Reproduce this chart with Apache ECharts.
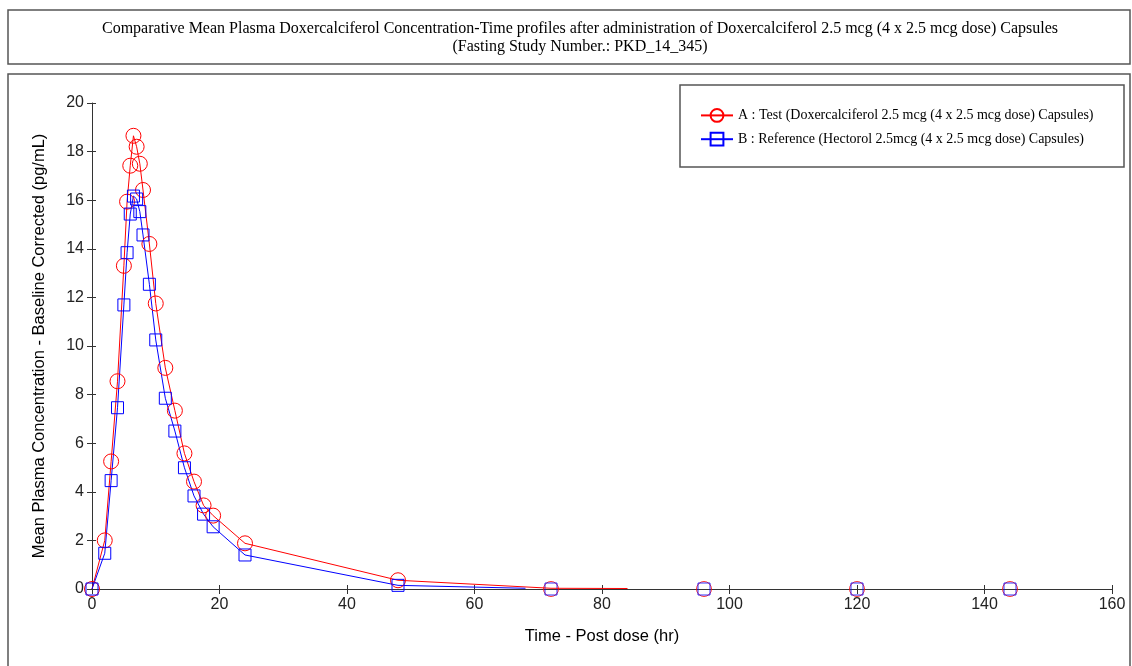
<!DOCTYPE html>
<html>
<head>
<meta charset="utf-8">
<script src="https://cdn.jsdelivr.net/npm/echarts@6/dist/echarts.min.js"></script>
<style>
html, body { margin: 0; padding: 0; background: #fff; }
#chart { width: 1132px; height: 666px; }
</style>
</head>
<body>
<div id="chart"></div>
<script>
// sampling times (hr) up to 48 h
var times = [0, 2, 3, 4, 5, 5.5, 6, 6.5, 7, 7.5, 8, 9, 10, 11.5, 13, 14.5, 16, 17.5, 19, 24, 48];
// A : Test
var testConc = [0, 2.0, 5.25, 8.55, 13.3, 15.94, 17.42, 18.65, 18.2, 17.5, 16.42, 14.2, 11.75, 9.1, 7.34, 5.58, 4.42, 3.44, 3.02, 1.88, 0.36];
// B : Reference
var refConc = [0, 1.47, 4.46, 7.46, 11.69, 13.84, 15.43, 16.17, 16.05, 15.53, 14.57, 12.54, 10.25, 7.85, 6.5, 4.99, 3.83, 3.08, 2.56, 1.40, 0.15];

// line continues past 48 h without markers
var testTailTimes = [72, 84];
var testTailConc = [0.03, 0.02];
var refTailTimes = [68];
var refTailConc = [0.03];

// late markers drawn on the baseline
var lateTimes = [72, 96, 120, 144];
var lateTest = [0, 0, 0, 0];
var lateRef = [0, 0, 0, 0];

var nameA = 'A : Test (Doxercalciferol 2.5 mcg (4 x 2.5 mcg dose) Capsules)';
var nameB = 'B : Reference (Hectorol 2.5mcg (4 x 2.5 mcg dose) Capsules)';

function pairs(xs, ys) {
	return xs.map(function(x, i) { return [x, ys[i]]; });
}
function noSymbol(xs, ys) {
	return xs.map(function(x, i) { return { value: [x, ys[i]], symbol: 'none' }; });
}

var myChart = echarts.init(document.getElementById('chart'));

var axisCommon = {
	type: 'value',
	axisLine: { show: true, lineStyle: { color: '#333', width: 1 } },
	splitLine: { show: false }
};

var option = {
	animation: false,
	backgroundColor: '#fff',
	graphic: [
		{ type: 'rect', shape: { x: 8, y: 10, width: 1122, height: 54 }, style: { fill: 'none', stroke: '#555', lineWidth: 1.5 } },
		{ type: 'rect', shape: { x: 8, y: 74, width: 1122, height: 600 }, style: { fill: 'none', stroke: '#555', lineWidth: 1.5 } },
		{ type: 'rect', shape: { x: 680, y: 85, width: 444, height: 82 }, style: { fill: 'none', stroke: '#555', lineWidth: 1.5 } }
	],
	title: {
		text: 'Comparative Mean Plasma Doxercalciferol Concentration-Time profiles after administration of Doxercalciferol 2.5 mcg (4 x 2.5 mcg dose) Capsules\n(Fasting Study Number.: PKD_14_345)',
		left: 575,
		top: 15,
		textAlign: 'center',
		textStyle: {
			fontFamily: 'Liberation Serif',
			fontSize: 16,
			fontWeight: 'normal',
			color: '#000',
			lineHeight: 18
		}
	},
	legend: {
		data: [nameA, nameB],
		orient: 'vertical',
		left: 695,
		top: 103,
		itemGap: 9,
		itemWidth: 32,
		itemHeight: 16,
		textStyle: { fontFamily: 'Liberation Serif', fontSize: 14, color: '#000' }
	},
	grid: { left: 92, top: 103, width: 1020, height: 486 },
	xAxis: [
		Object.assign({}, axisCommon, {
			min: 0, max: 160, interval: 20,
			axisTick: { show: true, length: 5, lineStyle: { color: '#333' } },
			axisLabel: { fontFamily: 'Liberation Sans', fontSize: 16, color: '#222', margin: 8 },
			name: 'Time - Post dose (hr)',
			nameLocation: 'middle',
			nameGap: 39,
			nameTextStyle: { fontFamily: 'Liberation Sans', fontSize: 16.5, color: '#000' }
		}),
		Object.assign({}, axisCommon, {
			min: 0, max: 160, interval: 20, position: 'bottom',
			axisLine: { show: false },
			axisTick: { show: true, inside: true, length: 4, lineStyle: { color: '#333' } },
			axisLabel: { show: false }
		})
	],
	yAxis: [
		Object.assign({}, axisCommon, {
			min: 0, max: 20, interval: 2,
			axisTick: { show: true, length: 5, lineStyle: { color: '#333' } },
			axisLabel: { fontFamily: 'Liberation Sans', fontSize: 16, color: '#222', margin: 8 },
			name: 'Mean Plasma Concentration - Baseline Corrected (pg/mL)',
			nameLocation: 'middle',
			nameRotate: 90,
			nameGap: 44,
			nameTextStyle: { fontFamily: 'Liberation Sans', fontSize: 16.5, color: '#000' }
		}),
		Object.assign({}, axisCommon, {
			min: 0, max: 20, interval: 2, position: 'left',
			axisLine: { show: false },
			axisTick: { show: true, inside: true, length: 4, lineStyle: { color: '#333' } },
			axisLabel: { show: false }
		})
	],
	series: [
		{
			name: nameA,
			type: 'line',
			symbol: 'circle',
			symbolSize: 15,
			showAllSymbol: true,
			lineStyle: { color: '#ff0000', width: 1 },
			itemStyle: { color: 'rgba(255,255,255,0)', borderColor: '#ff0000', borderWidth: 1 },
			data: pairs(times, testConc).concat(noSymbol(testTailTimes, testTailConc))
		},
		{
			name: nameB,
			type: 'line',
			symbol: 'rect',
			symbolSize: 12,
			showAllSymbol: true,
			lineStyle: { color: '#0000ff', width: 1 },
			itemStyle: { color: 'rgba(255,255,255,0)', borderColor: '#0000ff', borderWidth: 1 },
			data: pairs(times, refConc).concat(noSymbol(refTailTimes, refTailConc))
		},
		{
			name: nameA,
			type: 'scatter',
			symbol: 'circle',
			symbolSize: 15,
			itemStyle: { color: 'rgba(255,255,255,0)', borderColor: '#ff0000', borderWidth: 1 },
			data: pairs(lateTimes, lateTest)
		},
		{
			name: nameB,
			type: 'scatter',
			symbol: 'rect',
			symbolSize: 12,
			itemStyle: { color: 'rgba(255,255,255,0)', borderColor: '#0000ff', borderWidth: 1 },
			data: pairs(lateTimes, lateRef)
		}
	]
};

myChart.setOption(option);
window.addEventListener('resize', function() {
	myChart.resize();
});
</script>
</body>
</html>
